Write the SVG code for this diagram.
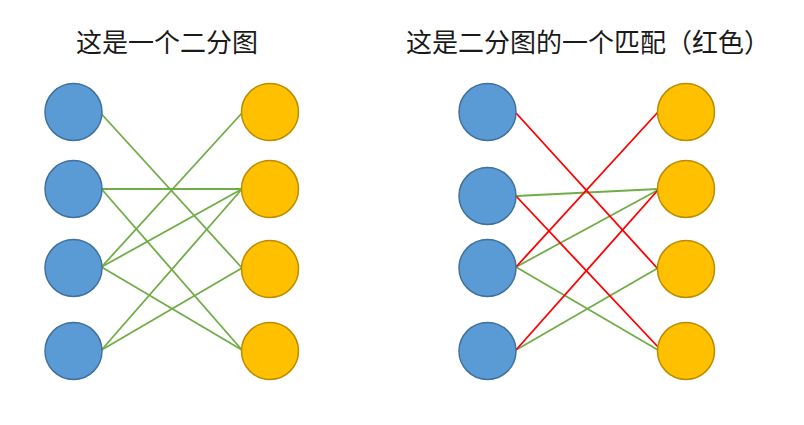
<svg xmlns="http://www.w3.org/2000/svg" width="804" height="425" viewBox="0 0 804 425">
<style>
.t{font-family:"Noto Sans CJK SC","Noto Sans",sans-serif;font-size:26px;fill:#1a1a1a}
.b{fill:#5B9BD5;stroke:#41719C;stroke-width:1.5}
.y{fill:#FFC000;stroke:#BC8C00;stroke-width:1.5}
.g{stroke:#70AD47;stroke-width:1.8;fill:none}
.r{stroke:#FF0000;stroke-width:1.8;fill:none}
</style>
<rect width="804" height="425" fill="#fff"/>
<text class="t" x="76" y="52">这是一个二分图</text>
<text class="t" x="406" y="52">这是二分图的一个匹配（红色）</text>
<g id="edges-left">
<line class="g" x1="101.5" y1="114" x2="242" y2="268"/>
<line class="g" x1="101.5" y1="189" x2="242" y2="189"/>
<line class="g" x1="101.5" y1="189" x2="242" y2="350"/>
<line class="g" x1="101.5" y1="267" x2="242" y2="113"/>
<line class="g" x1="101.5" y1="267" x2="242" y2="189"/>
<line class="g" x1="101.5" y1="267" x2="242" y2="350"/>
<line class="g" x1="101.5" y1="350" x2="242" y2="189"/>
<line class="g" x1="101.5" y1="350" x2="242" y2="268"/>
</g>
<g id="edges-right">
<line class="g" x1="516" y1="196" x2="658" y2="189"/>
<line class="g" x1="516" y1="267" x2="658" y2="190"/>
<line class="g" x1="516" y1="267" x2="658" y2="350"/>
<line class="g" x1="516" y1="350" x2="658" y2="268"/>
<line class="r" x1="516" y1="113" x2="658" y2="269"/>
<line class="r" x1="516" y1="196" x2="658" y2="347"/>
<line class="r" x1="516" y1="267" x2="658" y2="112"/>
<line class="r" x1="516" y1="350" x2="658" y2="190"/>
</g>
<g id="left-graph">
<g id="A1"><circle class="b" cx="73.5" cy="112" r="28.5"/></g>
<g id="A2"><circle class="b" cx="73.5" cy="189" r="28.5"/></g>
<g id="A3"><circle class="b" cx="73.5" cy="268" r="28.5"/></g>
<g id="A4"><circle class="b" cx="73.5" cy="351" r="28.5"/></g>
<g id="B1"><circle class="y" cx="270" cy="112" r="28.5"/></g>
<g id="B2"><circle class="y" cx="270" cy="189" r="28.5"/></g>
<g id="B3"><circle class="y" cx="270" cy="269" r="28.5"/></g>
<g id="B4"><circle class="y" cx="270" cy="351" r="28.5"/></g>
</g>
<g id="right-graph">
<g id="C1"><circle class="b" cx="487.5" cy="112" r="28.5"/></g>
<g id="C2"><circle class="b" cx="487.5" cy="196" r="28.5"/></g>
<g id="C3"><circle class="b" cx="487.5" cy="268" r="28.5"/></g>
<g id="C4"><circle class="b" cx="487.5" cy="351" r="28.5"/></g>
<g id="D1"><circle class="y" cx="686" cy="112" r="28.5"/></g>
<g id="D2"><circle class="y" cx="686" cy="189" r="28.5"/></g>
<g id="D3"><circle class="y" cx="686" cy="269" r="28.5"/></g>
<g id="D4"><circle class="y" cx="686" cy="351" r="28.5"/></g>
</g>
</svg>
